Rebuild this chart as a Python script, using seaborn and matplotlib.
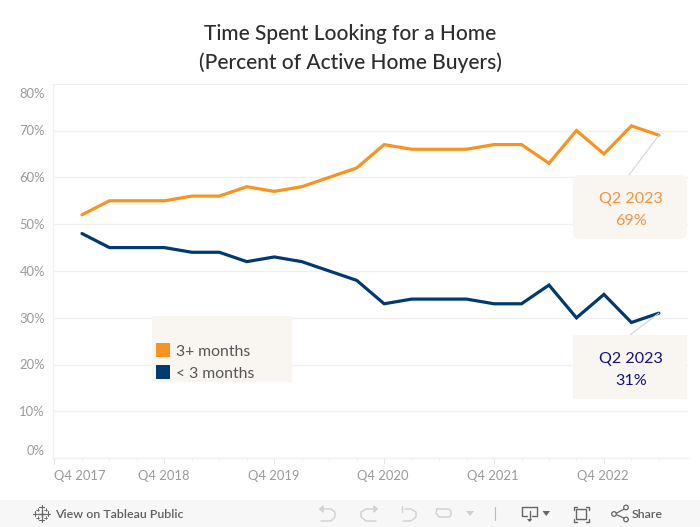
import matplotlib
matplotlib.use("Agg")
import matplotlib.pyplot as plt
from matplotlib.patches import Rectangle, FancyBboxPatch, Circle
import pandas as pd
import seaborn as sns

TITLE = ["Time Spent Looking for a Home", "(Percent of Active Home Buyers)"]
quarter_pos = list(range(1, 23))
long_search = [52, 55, 55, 55, 56, 56, 58, 57, 58, 60, 62, 67, 66, 66, 66, 67, 67, 63, 70, 65, 71, 69]
short_search = [48, 45, 45, 45, 44, 44, 42, 43, 42, 40, 38, 33, 34, 34, 34, 33, 33, 37, 30, 35, 29, 31]
series_names = ["3+ months", "< 3 months"]
x_tick_pos = [0, 4, 8, 12, 16, 20]
x_tick_labels = ["Q4 2017", "Q4 2018", "Q4 2019", "Q4 2020", "Q4 2021", "Q4 2022"]
y_ticks = [0, 10, 20, 30, 40, 50, 60, 70, 80]

ORANGE, NAVY = "#f9931f", "#003a70"
BOX = "#f9f6f2"
GRID = "#f0f0f0"
TICK = "#9a9a9a"

sns.set_theme(style="white")
plt.rcParams["font.family"] = ["Lato", "DejaVu Sans"]

W, H = 700, 527
fig = plt.figure(figsize=(W / 100, H / 100), dpi=100, facecolor="white")

bg = fig.add_axes([0, 0, 1, 1], zorder=0)
bg.set_xlim(0, W); bg.set_ylim(H, 0); bg.axis("off")
bg.add_patch(Rectangle((0, 500), W, 27, fc="#f7f7f7", ec="none"))

L, R, T, B = 52.7, 688, 83.7, 458.3
ax = fig.add_axes([L / W, 1 - B / H, (R - L) / W, (B - T) / H], zorder=1)
ax.patch.set_alpha(0)

df = pd.DataFrame({
    "q": quarter_pos * 2,
    "pct": long_search + short_search,
    "series": [series_names[0]] * len(long_search) + [series_names[1]] * len(short_search),
})
sns.lineplot(data=df, x="q", y="pct", hue="series", hue_order=series_names,
             palette=[ORANGE, NAVY], lw=2.3, legend=False, ax=ax, zorder=3,
             solid_capstyle="round", solid_joinstyle="miter")

ax.set_xlim(-0.065, 23.06)
ax.set_ylim(0, 80)
ax.set_xlabel(""); ax.set_ylabel("")
ax.set_yticks(y_ticks)
ax.set_yticklabels([])
ax.grid(axis="y", color=GRID, lw=1)
ax.grid(axis="x", visible=False)
ax.set_axisbelow(True)
for s in ["top", "right"]:
    ax.spines[s].set_visible(False)
for s in ["left", "bottom"]:
    ax.spines[s].set_color(GRID); ax.spines[s].set_linewidth(1)
ax.set_xticks(x_tick_pos)
ax.set_xticklabels([])
ax.set_xticks(range(0, 23), minor=True)
ax.tick_params(axis="x", which="major", length=4, width=0.8, color="#e4e4e4", bottom=True)
ax.tick_params(axis="x", which="minor", length=2, width=0.6, color="#eeeeee", bottom=True)
ax.tick_params(axis="y", length=0)

ov = fig.add_axes([0, 0, 1, 1], zorder=2)
ov.set_xlim(0, W); ov.set_ylim(H, 0); ov.axis("off")

for line, y in zip(TITLE, (34.5, 62.5)):
    ov.text(350, y, line, ha="center", va="center", fontsize=15, color="#2d2d2d",
            fontweight="medium", family=["Lato", "DejaVu Sans"])

for v in y_ticks:
    y = B - v * (B - T) / 80 + 0.8
    if v == 80: y = 93.5
    if v == 0: y = 451
    ov.text(45, y, f"{v}%", ha="right", va="center", fontsize=9.4, color=TICK)

for p, lab in zip(x_tick_pos, x_tick_labels):
    x = 54.5 + p * 27.47
    if p == 0:
        ov.text(54, 475.5, lab, ha="left", va="center", fontsize=9.4, color=TICK)
    else:
        ov.text(x - 1, 475.5, lab, ha="center", va="center", fontsize=9.4, color=TICK)

ov.add_patch(Rectangle((152, 316), 140, 66, fc=BOX, ec="none"))
for name, col, y in zip(series_names, (ORANGE, NAVY), (350, 372)):
    ov.add_patch(Rectangle((156, y - 7), 14, 14, fc=col, ec="none"))
    ov.text(176, y + 2, name, ha="left", va="center", fontsize=11.3, color="#555555")

def to_px(q, v):
    return 54.5 + q * 27.47, B - v * (B - T) / 80

x1, y1 = to_px(quarter_pos[-1], long_search[-1])
ov.plot([x1, 629], [y1, 175], color="#d4d4d4", lw=0.8, zorder=1)
ov.add_patch(FancyBboxPatch((578, 180), 104, 54, boxstyle="round,pad=5,rounding_size=7",
                            fc=BOX, ec="none", zorder=2))
ov.text(631, 198.5, "Q2 2023", ha="center", va="center", fontsize=11.6, color="#f5923e", zorder=3)
ov.text(631, 221, f"{long_search[-1]}%", ha="center", va="center", fontsize=11.6, color="#f5923e", zorder=3)

x2, y2 = to_px(quarter_pos[-1], short_search[-1])
ov.plot([x2, 630], [y2, 335], color="#d4d4d4", lw=0.8, zorder=1)
ov.add_patch(Rectangle((573, 335), 114, 64, fc=BOX, ec="none", zorder=2))
ov.text(631, 358.5, "Q2 2023", ha="center", va="center", fontsize=11.6, color="#10107f", zorder=3)
ov.text(631, 381, f"{short_search[-1]}%", ha="center", va="center", fontsize=11.6, color="#10107f", zorder=3)

IC = "#d0d0d0"; DK = "#666666"
lx, ly = 41.5, 513.5
for dx, dy, r, w in [(0, 0, 3.2, 1.0), (0, -6.5, 2.2, 0.8), (0, 6.5, 2.2, 0.8), (-6.5, 0, 2.2, 0.8), (6.5, 0, 2.2, 0.8),
                     (-4, -4, 1.4, 0.6), (4, -4, 1.4, 0.6), (-4, 4, 1.4, 0.6), (4, 4, 1.4, 0.6)]:
    ov.plot([lx + dx - r, lx + dx + r], [ly + dy] * 2, color=DK, lw=w)
    ov.plot([lx + dx] * 2, [ly + dy - r, ly + dy + r], color=DK, lw=w)
ov.text(55, 514, "View on Tableau Public", ha="left", va="center", fontsize=8.9,
        color="#5f5f5f", fontweight="semibold")
ov.text(632, 514, "Share", ha="left", va="center", fontsize=8.9, color="#5f5f5f",
        fontweight="semibold")

ov.plot([321, 331, 335, 335, 331, 321], [509, 509, 512, 517, 521, 521], color=IC, lw=1)
ov.plot([320, 323, 323, 320], [509, 506, 512, 509], color=IC, lw=1)
ov.plot([376, 366, 361, 361, 366, 376], [509, 509, 512, 517, 521, 521], color=IC, lw=1)
ov.plot([377, 374, 374, 377], [509, 506, 512, 509], color=IC, lw=1)
ov.plot([402, 402], [506, 512], color=IC, lw=1)
ov.plot([405, 411, 416, 416, 411, 403], [509, 509, 512, 517, 521, 521], color=IC, lw=1)
ov.plot([437, 449, 451, 451, 449, 439, 436, 437], [509, 509, 511, 515, 517, 517, 513, 509], color=IC, lw=1)
ov.fill([466, 474, 470], [511, 511, 516], color=IC, lw=0)
ov.plot([495, 495], [507, 520], color="#bbbbbb", lw=0.8)
ov.plot([527, 522, 522, 537, 537, 532], [516, 516, 507, 507, 516, 516], color=DK, lw=1)
ov.plot([529.5, 529.5], [511, 520], color=DK, lw=1)
ov.fill([527, 532, 529.5], [519, 519, 522], color=DK, lw=0)
ov.fill([542.5, 550, 546.2], [511, 511, 516], color=DK, lw=0)
ov.add_patch(Rectangle((576, 509), 10, 10, fc="none", ec=DK, lw=1))
for sx, sy in [(573.5, 506.5), (588.5, 506.5), (573.5, 521.5), (588.5, 521.5)]:
    hx = 3 if sx < 580 else -3
    hy = 3 if sy < 512 else -3
    ov.plot([sx + hx, sx, sx], [sy, sy, sy + hy], color=DK, lw=1)
ov.plot([626, 615, 626], [508, 514, 519], color=DK, lw=0.9)
for c in [(626, 507.5), (614, 514), (626, 519.5)]:
    ov.add_patch(Circle(c, 2.3, fc="#f7f7f7", ec=DK, lw=0.9, zorder=3))

fig.savefig("out.png", dpi=100, facecolor="white")
